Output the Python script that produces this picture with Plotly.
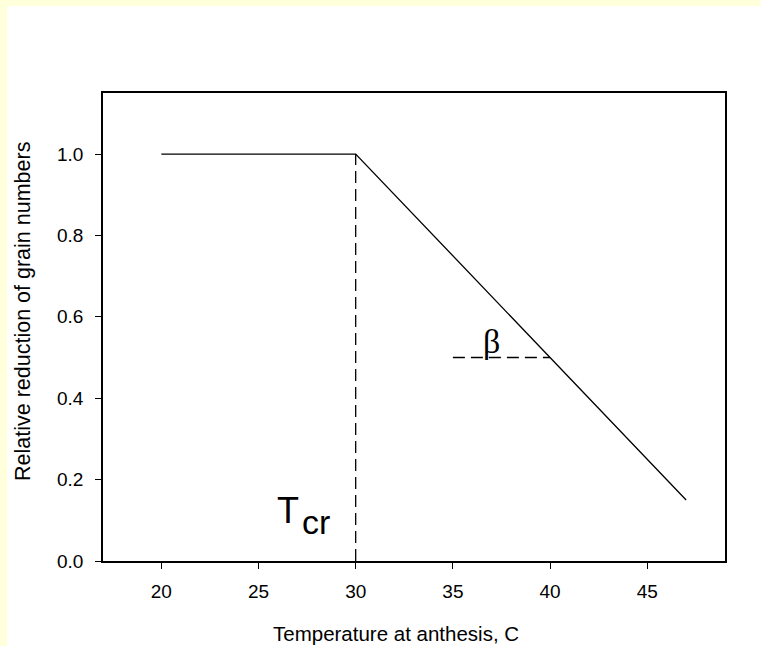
import plotly.graph_objects as go

# data
line_x = [20, 30, 47]
line_y = [1.0, 1.0, 0.15]
tcr_x = [30, 30]
tcr_y = [0.0, 1.0]
beta_x = [35, 40]
beta_y = [0.5, 0.5]
x_ticks = [20, 25, 30, 35, 40, 45]
y_ticks = [0.0, 0.2, 0.4, 0.6, 0.8, 1.0]
x_title = "Temperature at anthesis, C"
y_title = "Relative reduction of grain numbers"

W, H = 761, 646
L, R, T, B = 103, 36, 93, 85
pw, ph = W - L - R, H - T - B

def px2x(p):
    return (p - L) / pw
def py2y(p):
    return (H - B - p) / ph

fig = go.Figure()
fig.add_trace(go.Scatter(x=line_x, y=line_y, mode="lines",
                         line=dict(color="black", width=1.3), showlegend=False))
fig.add_trace(go.Scatter(x=tcr_x, y=tcr_y, mode="lines",
                         line=dict(color="black", width=1.3, dash="12px,6px"), showlegend=False))
fig.add_trace(go.Scatter(x=beta_x, y=beta_y, mode="lines",
                         line=dict(color="black", width=1.3, dash="12px,6px"), showlegend=False))

font = "Liberation Sans"
fig.add_annotation(x=26.52, y=0.125, text="T", showarrow=False,
                   font=dict(family=font, size=36, color="black"))
fig.add_annotation(x=27.95, y=0.097, text="cr", showarrow=False,
                   font=dict(family=font, size=34, color="black"))
fig.add_annotation(x=37.0, y=0.540, text="β", showarrow=False,
                   font=dict(family="Liberation Serif", size=34, color="black"))

# axis titles (placed as in the reference)
fig.add_annotation(xref="paper", yref="paper", x=px2x(396), y=py2y(633),
                   xanchor="center", yanchor="middle",
                   text=x_title, showarrow=False,
                   font=dict(family=font, size=20.5, color="black"))
fig.add_annotation(xref="paper", yref="paper", x=px2x(23), y=py2y(312),
                   xanchor="center", yanchor="middle",
                   text=y_title, showarrow=False, textangle=-90,
                   font=dict(family=font, size=21.5, color="black"))

# yellow bands at top and left edges of the page
yellow = "#FFFFDC"
fig.add_shape(type="rect", xref="paper", yref="paper", layer="above",
              x0=px2x(-2), x1=px2x(W + 2), y0=py2y(6), y1=py2y(-2),
              fillcolor=yellow, line=dict(width=0))
fig.add_shape(type="rect", xref="paper", yref="paper", layer="above",
              x0=px2x(-2), x1=px2x(7), y0=py2y(H + 2), y1=py2y(-2),
              fillcolor=yellow, line=dict(width=0))

fig.update_layout(
    width=W, height=H,
    margin=dict(l=L, r=R, t=T, b=B, autoexpand=False),
    paper_bgcolor="white",
    plot_bgcolor="white",
    font=dict(family=font, size=19, color="black"),
    xaxis=dict(range=[17, 49], tickvals=x_ticks, ticks="outside", ticklen=6,
               tickcolor="black", showline=True, linecolor="black", linewidth=1.5,
               mirror=True, showgrid=False, zeroline=False, automargin=False,
               tickfont=dict(family=font, size=19), ticklabelstandoff=6),
    yaxis=dict(range=[0, 1.15], tickvals=y_ticks, tickformat=".1f", ticks="outside",
               ticklen=6, tickcolor="black", showline=True, linecolor="black",
               linewidth=1.5, mirror=True, showgrid=False, zeroline=False, automargin=False,
               tickfont=dict(family=font, size=19), ticklabelstandoff=8),
)

fig.write_html("out.html")
